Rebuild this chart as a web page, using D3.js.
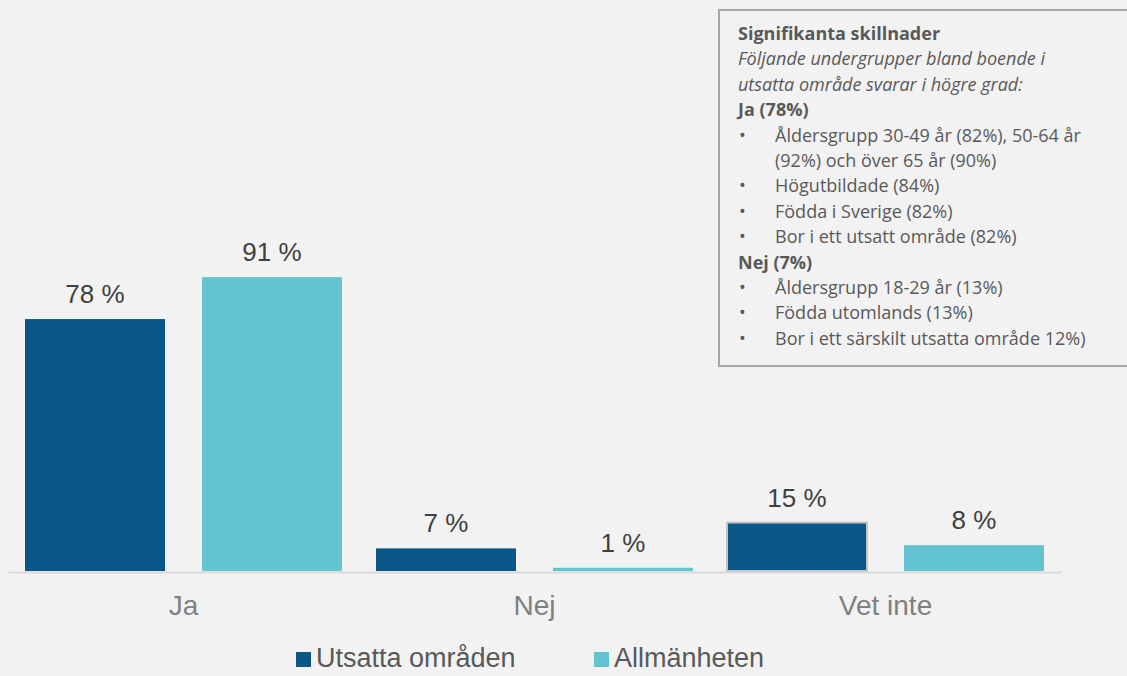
<!DOCTYPE html>
<html>
<head>
<meta charset="utf-8">
<script src="https://cdn.jsdelivr.net/npm/d3@7"></script>
<style>
    html, body { margin: 0; padding: 0; background: #f2f2f2; }
    svg { display: block; }
</style>
</head>
<body>
<div id="chart"></div>
<script>
// Chart data
var categories = ["Ja", "Nej", "Vet inte"];
var seriesNames = ["Utsatta områden", "Allmänheten"];
var utsattaValues = [78, 7, 15];
var allmanhetenValues = [91, 1, 8];
var seriesColors = ["#0a5686", "#63c3d0"];

// Note box lines: [text, kind]
var noteLines = [
    ["Signifikanta skillnader", "head"],
    ["Följande undergrupper bland boende i", "italic"],
    ["utsatta område svarar i högre grad:", "italic"],
    ["Ja (78%)", "head"],
    ["Åldersgrupp 30-49 år (82%), 50-64 år", "bullet"],
    ["(92%) och över 65 år (90%)", "cont"],
    ["Högutbildade (84%)", "bullet"],
    ["Födda i Sverige (82%)", "bullet"],
    ["Bor i ett utsatt område (82%)", "bullet"],
    ["Nej (7%)", "head"],
    ["Åldersgrupp 18-29 år (13%)", "bullet"],
    ["Födda utomlands (13%)", "bullet"],
    ["Bor i ett särskilt utsatta område 12%)", "bullet"]
];

var chart = (function () {

    "use strict";

    var width = 1127,
        height = 676,
        baseline = 571;

    function render() {
        var svg = d3.select("#chart").append("svg")
            .attr("width", width)
            .attr("height", height);

        svg.append("rect")
            .attr("width", width)
            .attr("height", height)
            .attr("fill", "#f2f2f2");

        var rows = categories.map(function (c, i) {
            return {cat: c, values: [utsattaValues[i], allmanhetenValues[i]]};
        });

        var x0 = d3.scaleBand()
            .domain(categories)
            .range([8, 1061])
            .paddingInner(0)
            .paddingOuter(0);

        var x1 = d3.scaleBand()
            .domain(d3.range(seriesNames.length))
            .range([0, x0.bandwidth()])
            .paddingInner(0.209)
            .paddingOuter(0.096);

        var y = d3.scaleLinear()
            .domain([0, 100])
            .range([baseline, baseline - 323]);

        // bars
        var groups = svg.selectAll("g.group")
            .data(rows)
            .enter()
            .append("g")
            .attr("class", "group")
            .attr("transform", function (d) {
                return "translate(" + x0(d.cat) + ",0)";
            });

        groups.selectAll("rect")
            .data(function (d) {
                return d.values.map(function (v, i) { return {v: v, s: i, cat: d.cat}; });
            })
            .enter()
            .append("rect")
            .attr("x", function (d) { return x1(d.s); })
            .attr("y", function (d) { return y(d.v); })
            .attr("width", x1.bandwidth())
            .attr("height", function (d) { return y(0) - y(d.v); })
            .attr("fill", function (d) { return seriesColors[d.s]; })
            .attr("stroke", function (d) {
                return (d.cat === "Vet inte" && d.s === 0) ? "#c4c4c4" : "none";
            })
            .attr("stroke-width", 2);

        groups.selectAll("text.val")
            .data(function (d) {
                return d.values.map(function (v, i) { return {v: v, s: i}; });
            })
            .enter()
            .append("text")
            .attr("class", "val")
            .attr("x", function (d) { return x1(d.s) + x1.bandwidth() / 2; })
            .attr("y", function (d) { return y(d.v) - 16; })
            .attr("text-anchor", "middle")
            .attr("font-family", "Liberation Sans, Arial, sans-serif")
            .attr("font-size", 26)
            .attr("fill", "#404040")
            .text(function (d) { return d.v + " %"; });

        // axis
        var axis = svg.append("g")
            .attr("transform", "translate(0," + (baseline + 1) + ")")
            .call(d3.axisBottom(x0).tickSize(0).tickPadding(23));

        axis.select(".domain")
            .attr("stroke", "#d9d9d9")
            .attr("stroke-width", 2);

        axis.selectAll("text")
            .attr("font-family", "Liberation Sans, Arial, sans-serif")
            .attr("font-size", 28)
            .attr("fill", "#808080");

        // legend
        var legendX = [296, 594];
        var legend = svg.selectAll("g.legend")
            .data(seriesNames)
            .enter()
            .append("g")
            .attr("class", "legend")
            .attr("transform", function (d, i) {
                return "translate(" + legendX[i] + ",652)";
            });

        legend.append("rect")
            .attr("width", 15)
            .attr("height", 15)
            .attr("fill", function (d, i) { return seriesColors[i]; });

        legend.append("text")
            .attr("x", 20)
            .attr("y", 15)
            .attr("font-family", "Liberation Sans, Arial, sans-serif")
            .attr("font-size", 27)
            .attr("fill", "#595959")
            .text(function (d) { return d; });

        // note box
        svg.append("rect")
            .attr("x", 719)
            .attr("y", 10)
            .attr("width", 430)
            .attr("height", 356)
            .attr("fill", "none")
            .attr("stroke", "#a6a6a6")
            .attr("stroke-width", 2);

        var note = svg.append("g")
            .attr("font-family", "Open Sans, sans-serif")
            .attr("font-size", 18)
            .attr("fill", "#595959");

        note.selectAll("text.line")
            .data(noteLines)
            .enter()
            .append("text")
            .attr("class", "line")
            .attr("x", function (d) { return (d[1] === "bullet" || d[1] === "cont") ? 775 : 738; })
            .attr("y", function (d, i) { return 40 + i * 25.4; })
            .attr("font-weight", function (d) { return d[1] === "head" ? "bold" : "normal"; })
            .attr("font-style", function (d) { return d[1] === "italic" ? "italic" : "normal"; })
            .text(function (d) { return d[0]; });

        note.selectAll("text.bullet")
            .data(noteLines)
            .enter()
            .filter(function (d) { return d[1] === "bullet"; })
            .append("text")
            .attr("class", "bullet")
            .attr("x", 739)
            .attr("y", function (d) { return 40 + noteLines.indexOf(d) * 25.4; })
            .text("•");
    }

    return {
        render: render
    };

}());

chart.render();
</script>
</body>
</html>
